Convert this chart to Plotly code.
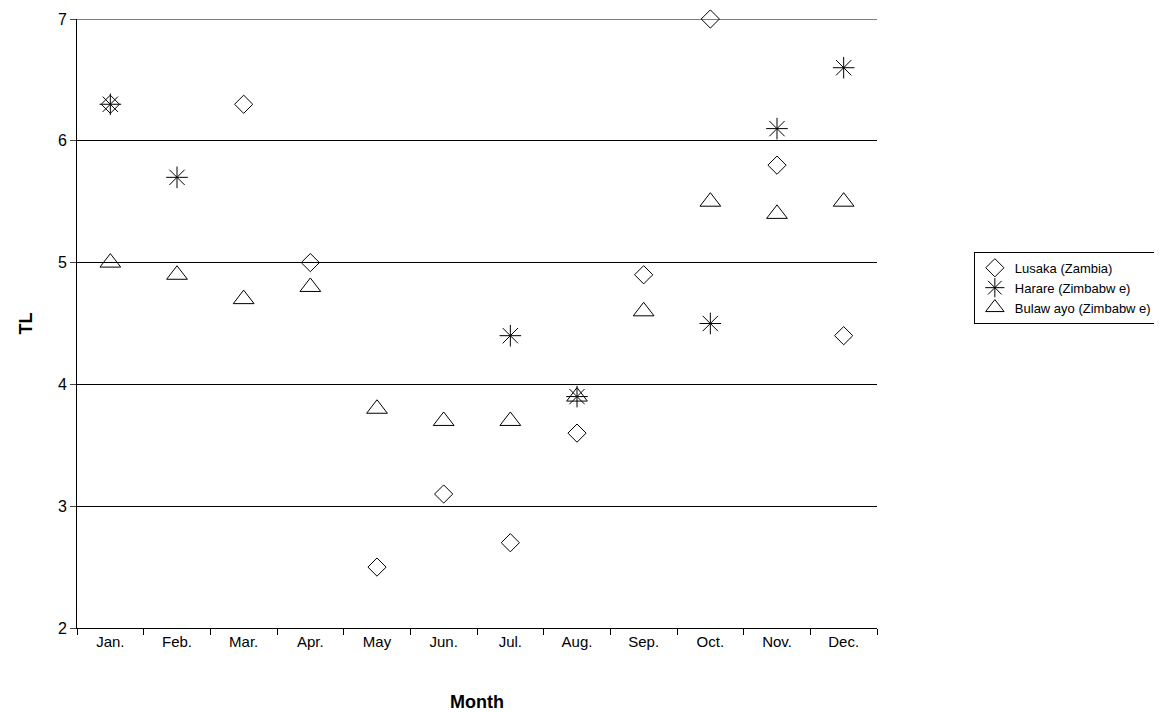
import plotly.graph_objects as go

months = ["Jan.","Feb.","Mar.","Apr.","May","Jun.","Jul.","Aug.","Sep.","Oct.","Nov.","Dec."]
lusaka = [6.3, None, 6.3, 5.0, 2.5, 3.1, 2.7, 3.6, 4.9, 7.0, 5.8, 4.4]
harare = [6.3, 5.7, None, None, None, None, 4.4, 3.9, None, 4.5, 6.1, 6.6]
bulawayo = [5.0, 4.9, 4.7, 4.8, 3.8, 3.7, 3.7, 3.9, 4.6, 5.5, 5.4, 5.5]

x = list(range(1, 13))
fig = go.Figure()
fig.add_trace(go.Scatter(x=x, y=lusaka, mode="markers", name="Lusaka (Zambia)", cliponaxis=False,
    marker=dict(symbol="diamond-open", size=14, color="black", line=dict(width=1))))
fig.add_trace(go.Scatter(x=x, y=harare, mode="markers", name="Harare (Zimbabw e)", cliponaxis=False,
    marker=dict(symbol="asterisk-open", size=18, color="black", line=dict(width=1))))
fig.add_trace(go.Scatter(x=x, y=bulawayo, mode="markers", name="Bulaw ayo (Zimbabw e)", cliponaxis=False,
    marker=dict(symbol="triangle-up-open", size=18, color="black", line=dict(width=1))))

fig.add_shape(type="line", xref="paper", yref="y", x0=0, x1=1, y0=7, y1=7,
              line=dict(color="black", width=1), layer="below")

fig.update_layout(
    width=1150, height=712, paper_bgcolor="white", plot_bgcolor="white",
    margin=dict(l=69, r=281, t=11, b=92, autoexpand=False),
    font=dict(family="Liberation Sans, Arial", size=15, color="black"),
    legend=dict(xref="container", yref="container", x=0.999, y=0.607,
                xanchor="right", yanchor="middle",
                bordercolor="black", borderwidth=1, font=dict(size=13),
                tracegroupgap=0, itemwidth=30),
    xaxis=dict(range=[0.5, 12.5], tickvals=x, ticktext=months, ticks="", automargin=False,
               showgrid=False, showline=True, linecolor="black", zeroline=False,
               minor=dict(tick0=0.5, dtick=1, ticks="outside", ticklen=6, tickcolor="black"),
               title=dict(text="<b>Month</b>", standoff=46)),
    yaxis=dict(range=[2, 7], dtick=1, showgrid=True, gridcolor="black", gridwidth=1, automargin=False,
               showline=True, linecolor="black", ticks="outside", ticklen=6, zeroline=False,
               tickfont=dict(size=16), title=dict(text="<b>TL</b>", standoff=20)),
)
fig.write_html("out.html")
